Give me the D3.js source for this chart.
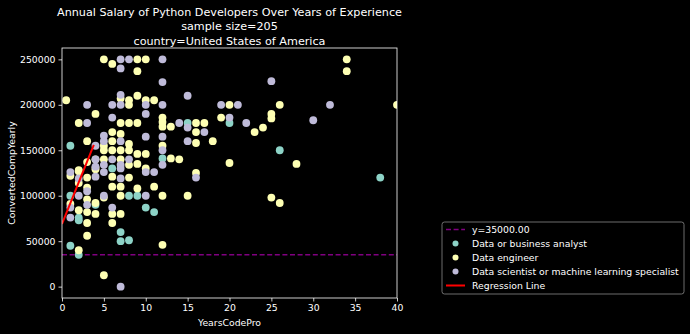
<!DOCTYPE html>
<html>
<head>
<meta charset="utf-8">
<script src="https://cdn.jsdelivr.net/npm/d3@7"></script>
<style>
  body { margin: 0; background: #000; }
  text { font-family: "DejaVu Sans", sans-serif; fill: #fff; }
</style>
</head>
<body>
<div id="chart"></div>
<script>
// years of professional coding vs yearly pay, one list per role
const analyst = [
  [1,155000],[1,100000],[1,45000],[2,76000],[2,73000],[2,35000],[4,90000],[6,130000],
  [7,60000],[7,50000],[8,100000],[8,51000],[9,100000],[10,87000],[11,82000],[12,141000],
  [15,180000],[20,180000],[26,150000],[38,120000]
];
const engineer = [
  [0.5,205000],[1,122000],[1,91000],
  [2,180000],[2,128000],[2,127000],[2,114000],[2,84000],[2,40000],
  [3,160000],[3,137000],[3,120000],[3,109000],[3,96000],[3,82000],[3,70000],[3,56000],
  [4,190000],[4,140000],[4,131000],[4,129000],[4,92000],[4,80000],
  [5,250000],[5,155000],[5,150000],[5,140000],[5,98000],[5,12500],
  [6,245000],[6,170000],[6,160000],[6,150000],[6,121000],[6,110000],[6,80000],[6,70000],
  [7,207000],[7,180000],[7,168000],[7,150000],[7,140000],[7,110000],[7,100000],[7,80000],
  [8,205000],[8,200000],[8,180000],[8,157000],[8,150000],[8,134000],[8,120000],
  [9,250000],[9,237000],[9,210000],[9,180000],[9,146000],[9,135000],[9,108000],
  [10,250000],[10,205000],[10,146000],[10,130000],
  [11,205000],[11,110000],
  [12,186000],[12,181000],[12,176000],[12,155000],[12,100000],[12,46000],
  [13,176000],[13,141000],[14,140000],[15,100000],
  [16,180000],[16,170000],[16,158000],[16,125000],[17,180000],[18,160000],[19,186000],
  [20,200000],[20,136000],[23,170000],[24,175000],
  [25,190000],[25,185000],[25,98000],[26,200000],[26,92000],[28,135000],
  [34,250000],[34,237000],[40,200000]
];
const scientist = [
  [1,126000],[1,87000],[1,76000],[2,119000],[2,100000],
  [3,200000],[3,180000],[3,105000],[3,90000],
  [4,155000],[4,140000],[4,132000],[4,121000],
  [5,166000],[5,160000],[5,134000],[5,126000],[5,100000],
  [6,200000],[6,186000],[6,140000],[6,87000],
  [7,250000],[7,240000],[7,211000],[7,200000],[7,160000],[7,134000],[7,130000],[7,119000],[7,0],
  [8,250000],[8,140000],
  [10,200000],[10,190000],[10,165000],[10,126000],[10,100000],
  [11,126000],[12,250000],[12,225000],[12,200000],[12,165000],[12,150000],[12,134000],
  [14,180000],[15,210000],[15,175000],[15,160000],[16,120000],[17,170000],
  [19,200000],[20,186000],[21,200000],[22,180000],[25,226000],[30,183000],[32,200000]
];
const roles = ["Data or business analyst", "Data engineer", "Data scientist or machine learning specialist"];
const roleColors = ["#8dd3c7", "#feffb3", "#bfbbd9"];
const threshold = 35000;
const regYears = [0, 3.8];
const regSalary = [69000, 156000];
const xTicks = [0, 5, 10, 15, 20, 25, 30, 35, 40];
const yTicks = [0, 50000, 100000, 150000, 200000, 250000];
const titleLines = ["Annual Salary of Python Developers Over Years of Experience",
                    "sample size=205", "country=United States of America"];

const W = 690, H = 334;
const m = {left: 62, right: 397, top: 48, bottom: 298};
const fs = 9.3;

const svg = d3.select("#chart").append("svg")
  .attr("width", W).attr("height", H)
  .style("background", "#000");

const x = d3.scaleLinear().domain([0, 40]).range([m.left, m.right]);
const y = d3.scaleLinear().domain([-12500, 262500]).range([m.bottom, m.top]);

svg.append("clipPath").attr("id", "plot")
  .append("rect").attr("x", m.left).attr("y", m.top)
  .attr("width", m.right - m.left).attr("height", m.bottom - m.top);

// axes
const xAxis = svg.append("g").attr("transform", `translate(0,${m.bottom})`)
  .call(d3.axisBottom(x).tickValues(xTicks).tickSize(3.5).tickPadding(3).tickFormat(d3.format("d")));
const yAxis = svg.append("g").attr("transform", `translate(${m.left},0)`)
  .call(d3.axisLeft(y).tickValues(yTicks).tickSize(3.5).tickPadding(3).tickFormat(d3.format("d")));
[xAxis, yAxis].forEach(a => {
  a.select(".domain").remove();
  a.selectAll("line").attr("stroke", "#fff").attr("stroke-width", 0.8);
  a.selectAll("text").attr("fill", "#fff").style("font-size", fs + "px")
    .style("font-family", "DejaVu Sans, sans-serif");
});

const plot = svg.append("g").attr("clip-path", "url(#plot)");

// threshold line
plot.append("line")
  .attr("x1", m.left).attr("x2", m.right)
  .attr("y1", y(threshold)).attr("y2", y(threshold))
  .attr("stroke", "#800080").attr("stroke-width", 1.4)
  .attr("stroke-dasharray", "5,2.6");

// points
[analyst, engineer, scientist].forEach((pts, i) => {
  plot.append("g").selectAll("circle").data(pts).join("circle")
    .attr("cx", d => x(d[0])).attr("cy", d => y(d[1]))
    .attr("r", 3.9).attr("fill", roleColors[i]);
});

// regression line
plot.append("line")
  .attr("x1", x(regYears[0])).attr("y1", y(regSalary[0]))
  .attr("x2", x(regYears[1])).attr("y2", y(regSalary[1]))
  .attr("stroke", "#ff0000").attr("stroke-width", 2);

// frame
svg.append("rect").attr("x", m.left).attr("y", m.top)
  .attr("width", m.right - m.left).attr("height", m.bottom - m.top)
  .attr("fill", "none").attr("stroke", "#fff").attr("stroke-width", 0.8);

// titles
svg.append("g").selectAll("text").data(titleLines).join("text")
  .attr("x", (m.left + m.right) / 2).attr("y", (d, i) => 16 + i * 14.3)
  .attr("text-anchor", "middle").style("font-size", "11.2px").text(d => d);

svg.append("text").attr("x", (m.left + m.right) / 2).attr("y", 326)
  .attr("text-anchor", "middle").style("font-size", fs + "px").text("YearsCodePro");
svg.append("text").attr("transform", `translate(15,${(m.top + m.bottom) / 2}) rotate(-90)`)
  .attr("text-anchor", "middle").style("font-size", fs + "px").text("ConvertedCompYearly");

// legend
const lg = svg.append("g").attr("transform", "translate(442,222)");
lg.append("rect").attr("width", 242).attr("height", 72).attr("rx", 2.5)
  .attr("fill", "#000").attr("stroke", "#888").attr("stroke-width", 0.8);
const items = [
  {label: `y=${threshold.toFixed(2)}`, type: "dash", color: "#800080"},
  ...roles.map((r, i) => ({label: r, type: "dot", color: roleColors[i]})),
  {label: "Regression Line", type: "line", color: "#ff0000"}
];
const row = lg.selectAll("g").data(items).join("g")
  .attr("transform", (d, i) => `translate(0,${7.5 + i * 14})`);
row.filter(d => d.type !== "dot").append("line")
  .attr("x1", 4).attr("x2", 23).attr("y1", 0).attr("y2", 0)
  .attr("stroke", d => d.color).attr("stroke-width", d => d.type === "line" ? 2 : 1.4)
  .attr("stroke-dasharray", d => d.type === "dash" ? "5,2.6" : null);
row.filter(d => d.type === "dot").append("circle")
  .attr("cx", 13.5).attr("cy", 0).attr("r", 3).attr("fill", d => d.color);
row.append("text").attr("x", 30).attr("y", 0).attr("dy", "0.35em")
  .style("font-size", fs + "px").text(d => d.label);
</script>
</body>
</html>
